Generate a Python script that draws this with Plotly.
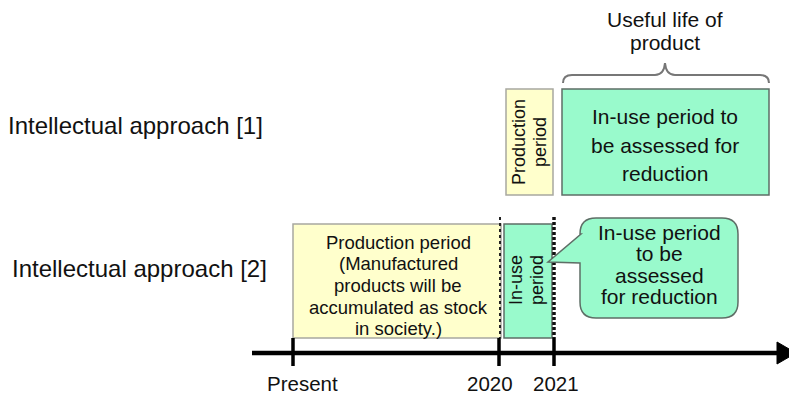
import plotly.graph_objects as go

# ---------------- data ----------------
tick_labels = ["Present", "2020", "2021"]
tick_pos = [293, 499, 554]          # timeline positions of the ticks

row_labels = ["Intellectual approach [1]", "Intellectual approach [2]"]

# periods drawn as boxes: (start, end) along timeline, row index, kind
period_kind = ["production", "inuse", "production", "inuse"]
period_start = [506, 562, 293, 504]
period_end = [553, 769, 501, 552]
period_row = [0, 0, 1, 1]

top_inuse_lines = ["In-use period to", "be assessed for", "reduction"]
top_prod_lines = ["Production", "period"]
bottom_prod_lines = ["Production period", "(Manufactured", "products will be",
                     "accumulated as stock", "in society.)"]
bottom_inuse_lines = ["In-use", "period"]
callout_lines = ["In-use period", "to be", "assessed", "for reduction"]
brace_lines = ["Useful life of", "product"]

# ---------------- styles ----------------
W, H = 789, 397
FONT = "Liberation Sans, Arial, sans-serif"
row_top = [89, 224]
row_bottom = [195, 338]
fill = {"production": "#FFFFCC", "inuse": "#99FACC"}
edge = {"production": "#A8A8A0", "inuse": "#5E6E66"}
axis_y = 353

fig = go.Figure()
shapes = []
annotations = []


def txt(x, y, s, size, angle=0):
    annotations.append(dict(x=x, y=y, xref="x", yref="y", text=s, showarrow=False,
                            xanchor="center", yanchor="middle", textangle=angle,
                            font=dict(family=FONT, size=size, color="#111111")))


# boxes
for k, x0, x1, r in zip(period_kind, period_start, period_end, period_row):
    shapes.append(dict(type="rect", xref="x", yref="y", x0=x0, x1=x1,
                       y0=row_top[r], y1=row_bottom[r],
                       fillcolor=fill[k], line=dict(color=edge[k], width=1.5),
                       layer="below"))

# dashed boundaries at 2020 and 2021
shapes.append(dict(type="line", xref="x", yref="y", x0=500, x1=500, y0=217, y1=338,
                   line=dict(color="#222222", width=2, dash="dot")))
shapes.append(dict(type="line", xref="x", yref="y", x0=554, x1=554, y0=217, y1=338,
                   line=dict(color="#111111", width=3.5, dash="3px,2px")))

# timeline axis
shapes.append(dict(type="line", xref="x", yref="y", x0=252, x1=780, y0=axis_y, y1=axis_y,
                   line=dict(color="#000000", width=4.5)))
shapes.append(dict(type="path", xref="x", yref="y",
                   path=f"M 777 {axis_y-11} L 796 {axis_y} L 777 {axis_y+11} Z",
                   fillcolor="#000000", line=dict(color="#000000", width=1)))
for tp in tick_pos:
    shapes.append(dict(type="line", xref="x", yref="y", x0=tp, x1=tp,
                       y0=338, y1=366, line=dict(color="#000000", width=3.5)))

# brace
shapes.append(dict(type="path", xref="x", yref="y",
                   path="M 563 83 Q 563 75 572 75 L 655 75 Q 664 75 665 63 "
                        "Q 666 75 675 75 L 760 75 Q 769 75 769 83",
                   line=dict(color="#777777", width=2)))

# callout bubble
cx0, cx1, cy0, cy1, rr = 580, 738, 218, 318, 16
callout_path = (f"M {cx0+rr} {cy0} L {cx1-rr} {cy0} Q {cx1} {cy0} {cx1} {cy0+rr} "
                f"L {cx1} {cy1-rr} Q {cx1} {cy1} {cx1-rr} {cy1} "
                f"L {cx0+rr} {cy1} Q {cx0} {cy1} {cx0} {cy1-rr} "
                f"L {cx0} 263 L 548 262 L {cx0+1} 234 "
                f"L {cx0} {cy0+rr} Q {cx0} {cy0} {cx0+rr} {cy0} Z")
shapes.append(dict(type="path", xref="x", yref="y", path=callout_path,
                   fillcolor=fill["inuse"], line=dict(color="#5E6E66", width=1.5)))

# row labels
txt(135.5, 125, row_labels[0], 24)
txt(139, 268, row_labels[1], 24)

# brace text
for s, y in zip(brace_lines, [19, 42]):
    txt(665, y, s, 21)

# top in-use box text
for s, y in zip(top_inuse_lines, [116, 145, 173]):
    txt(665, y, s, 21)

# top production vertical text
for s, x in zip(top_prod_lines, [519, 540]):
    txt(x, 142, s, 18, -90)

# bottom production text
for s, y in zip(bottom_prod_lines, [242, 263, 285, 307, 328]):
    txt(398, y, s, 18.5)

# bottom in-use vertical text
for s, x in zip(bottom_inuse_lines, [516, 537]):
    txt(x, 280, s, 18, -90)

# callout text
for s, y in zip(callout_lines, [232, 253, 275, 296]):
    txt(659, y, s, 21)

# tick labels
for s, x in zip(tick_labels, [302, 490, 556]):
    txt(x, 383, s, 20.5)

fig.update_layout(
    width=W, height=H, margin=dict(l=0, r=0, t=0, b=0),
    paper_bgcolor="white", plot_bgcolor="white",
    xaxis=dict(range=[0, W], visible=False, fixedrange=True),
    yaxis=dict(range=[H, 0], visible=False, fixedrange=True),
    shapes=shapes, annotations=annotations, showlegend=False,
)

fig.write_html("out.html", config={"displayModeBar": False},
               post_script="document.body.style.margin='0';"
                           "document.body.style.overflow='hidden';")
